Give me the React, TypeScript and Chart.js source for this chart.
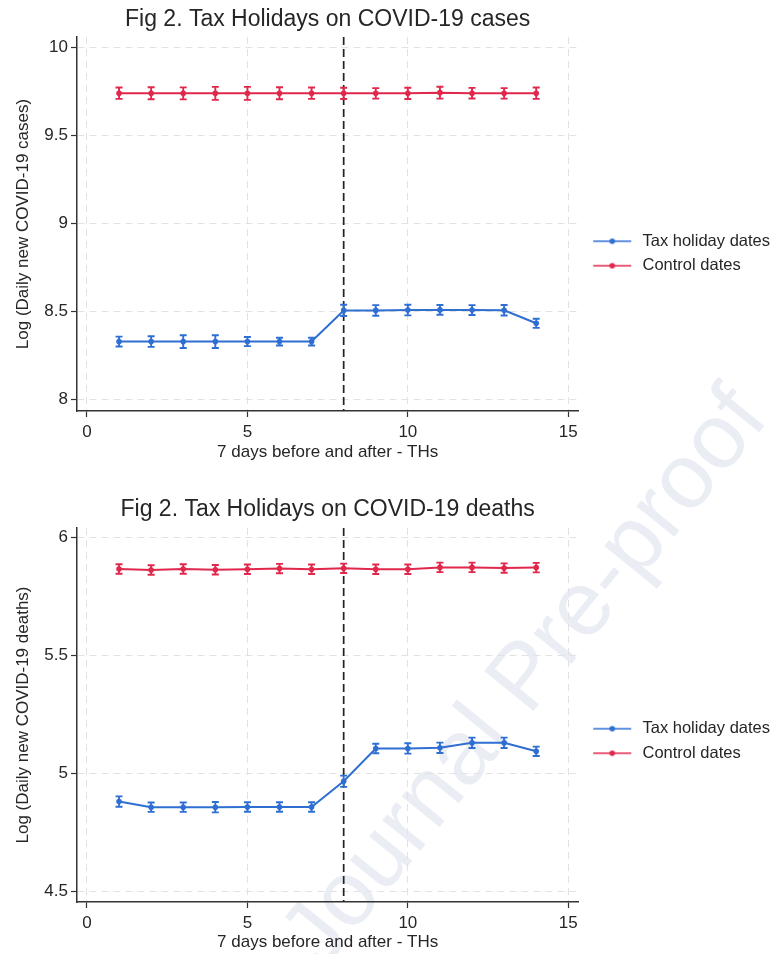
import React, { useEffect, useRef } from 'react';
import { Chart, registerables } from 'chart.js';

Chart.register(...registerables);

const FONT = "'Liberation Sans', Arial, Helvetica, sans-serif";
const TEXT = '#262626';
const AXIS = '#333333';
const GRID = '#e2e2e2';
const BLUE = '#2f6fd2';
const RED = '#e0284c';

// ---- shared data ----
const DAYS = [1, 2, 3, 4, 5, 6, 7, 8, 9, 10, 11, 12, 13, 14];
const X_TICKS = [0, 5, 10, 15];
const EVENT_DAY = 8;
const SERIES_NAMES = ['Tax holiday dates', 'Control dates'];
const X_TITLE = '7 days before and after - THs';
const WATERMARK = 'Journal Pre-proof';

// ---- panel 1: cases ----
const CASES_TITLE = 'Fig 2. Tax Holidays on COVID-19 cases';
const CASES_Y_TITLE = 'Log (Daily new COVID-19 cases)';
const CASES_Y_TICKS = [8, 8.5, 9, 9.5, 10];
const CASES_TAX = [8.328, 8.328, 8.328, 8.328, 8.328, 8.328, 8.328, 8.505, 8.505, 8.507, 8.508, 8.507, 8.506, 8.432];
const CASES_TAX_ERR = [0.028, 0.03, 0.036, 0.036, 0.026, 0.022, 0.022, 0.032, 0.03, 0.03, 0.028, 0.028, 0.03, 0.026];
const CASES_CONTROL = [9.738, 9.738, 9.737, 9.737, 9.737, 9.738, 9.738, 9.737, 9.737, 9.737, 9.741, 9.738, 9.737, 9.738];
const CASES_CONTROL_ERR = [0.032, 0.034, 0.034, 0.037, 0.037, 0.034, 0.032, 0.032, 0.03, 0.032, 0.034, 0.03, 0.03, 0.032];

// ---- panel 2: deaths ----
const DEATHS_TITLE = 'Fig 2. Tax Holidays on COVID-19 deaths';
const DEATHS_Y_TITLE = 'Log (Daily new COVID-19 deaths)';
const DEATHS_Y_TICKS = [4.5, 5, 5.5, 6];
const DEATHS_TAX = [4.881, 4.857, 4.857, 4.857, 4.858, 4.858, 4.858, 4.967, 5.106, 5.106, 5.109, 5.13, 5.13, 5.094];
const DEATHS_TAX_ERR = [0.022, 0.02, 0.02, 0.022, 0.02, 0.02, 0.02, 0.024, 0.02, 0.022, 0.022, 0.022, 0.022, 0.02];
const DEATHS_CONTROL = [5.867, 5.863, 5.867, 5.864, 5.866, 5.869, 5.866, 5.87, 5.866, 5.866, 5.874, 5.874, 5.871, 5.873];
const DEATHS_CONTROL_ERR = [0.02, 0.02, 0.02, 0.02, 0.02, 0.02, 0.02, 0.02, 0.02, 0.02, 0.02, 0.02, 0.02, 0.02];

function makeIcon(color: string): HTMLCanvasElement {
  const c = document.createElement('canvas');
  c.width = 48;
  c.height = 8;
  const g = c.getContext('2d')!;
  g.strokeStyle = color;
  g.lineWidth = 1.7;
  g.beginPath();
  g.moveTo(7, 4);
  g.lineTo(45, 4);
  g.stroke();
  g.fillStyle = color;
  g.beginPath();
  g.arc(26, 4, 2.8, 0, Math.PI * 2);
  g.fill();
  return c;
}

const errorBarPlugin = {
  id: 'errorBars',
  afterDatasetsDraw(chart: any) {
    const { ctx } = chart;
    const yScale = chart.scales.y;
    chart.data.datasets.forEach((ds: any, i: number) => {
      const errs: number[] = ds.errors;
      if (!errs) return;
      const meta = chart.getDatasetMeta(i);
      ctx.save();
      ctx.strokeStyle = ds.borderColor;
      ctx.lineWidth = 1.9;
      meta.data.forEach((pt: any, j: number) => {
        const v = ds.data[j].y;
        const top = yScale.getPixelForValue(v + errs[j]);
        const bot = yScale.getPixelForValue(v - errs[j]);
        ctx.beginPath();
        ctx.moveTo(pt.x, top);
        ctx.lineTo(pt.x, bot);
        ctx.moveTo(pt.x - 3.5, top);
        ctx.lineTo(pt.x + 3.5, top);
        ctx.moveTo(pt.x - 3.5, bot);
        ctx.lineTo(pt.x + 3.5, bot);
        ctx.stroke();
      });
      ctx.restore();
    });
  },
};

const eventLinePlugin = {
  id: 'eventLine',
  beforeDatasetsDraw(chart: any) {
    const { ctx, chartArea } = chart;
    const x = chart.scales.x.getPixelForValue(EVENT_DAY);
    ctx.save();
    ctx.strokeStyle = '#222222';
    ctx.lineWidth = 1.7;
    ctx.setLineDash([8, 4]);
    ctx.beginPath();
    ctx.moveTo(x, chartArea.top);
    ctx.lineTo(x, chartArea.bottom);
    ctx.stroke();
    ctx.restore();
  },
};

const centerTitlePlugin = {
  id: 'centerTitle',
  afterDraw(chart: any, _args: any, opts: any) {
    const { ctx, chartArea } = chart;
    ctx.save();
    ctx.font = `23px ${FONT}`;
    ctx.fillStyle = TEXT;
    ctx.textAlign = 'center';
    ctx.textBaseline = 'middle';
    ctx.fillText(opts.text, (chartArea.left + chartArea.right) / 2, opts.y);
    ctx.restore();
  },
};

type PanelProps = {
  title: string;
  yTitle: string;
  yTicks: number[];
  yMin: number;
  yMax: number;
  tax: number[];
  taxErr: number[];
  control: number[];
  controlErr: number[];
  top: number;
  height: number;
  padTop: number;
  xAxisHeight: number;
  xTitlePadBottom: number;
};

function Panel(p: PanelProps) {
  const ref = useRef<HTMLCanvasElement | null>(null);
  useEffect(() => {
    if (!ref.current) return;
    const icons = [makeIcon(BLUE), makeIcon(RED)];
    const chart = new Chart(ref.current, {
      type: 'line',
      data: {
        datasets: [
          {
            label: SERIES_NAMES[0],
            data: DAYS.map((d, i) => ({ x: d, y: p.tax[i] })),
            borderColor: BLUE,
            backgroundColor: BLUE,
            borderWidth: 2,
            pointRadius: 2.8,
            pointBorderWidth: 0,
            tension: 0,
            errors: p.taxErr,
          } as any,
          {
            label: SERIES_NAMES[1],
            data: DAYS.map((d, i) => ({ x: d, y: p.control[i] })),
            borderColor: RED,
            backgroundColor: RED,
            borderWidth: 2,
            pointRadius: 2.8,
            pointBorderWidth: 0,
            tension: 0,
            errors: p.controlErr,
          } as any,
        ],
      },
      options: {
        animation: false,
        responsive: true,
        maintainAspectRatio: false,
        events: [],
        layout: { padding: { top: p.padTop, left: 0, right: 4, bottom: 0 } },
        scales: {
          x: {
            type: 'linear',
            min: -0.31,
            max: 15.31,
            afterBuildTicks: (s: any) => {
              s.ticks = X_TICKS.map((v) => ({ value: v }));
            },
            afterFit: (s: any) => {
              s.height = p.xAxisHeight;
            },
            ticks: {
              color: TEXT,
              font: { family: FONT, size: 17 },
              padding: 5,
              maxRotation: 0,
              callback: (v: any) => String(v),
            },
            grid: {
              color: GRID,
              lineWidth: 1,
              tickColor: AXIS,
              tickLength: 6,
              tickWidth: 1.2,
            },
            border: { display: true, color: AXIS, width: 1.5, dash: [7, 5] },
            title: {
              display: true,
              text: X_TITLE,
              color: TEXT,
              font: { family: FONT, size: 17 },
              padding: { top: 0, bottom: p.xTitlePadBottom },
            },
          },
          y: {
            type: 'linear',
            min: p.yMin,
            max: p.yMax,
            afterBuildTicks: (s: any) => {
              s.ticks = p.yTicks.map((v) => ({ value: v }));
            },
            afterFit: (s: any) => {
              s.width = 77;
            },
            ticks: {
              color: TEXT,
              font: { family: FONT, size: 17 },
              padding: 3,
              callback: (v: any) => String(v),
            },
            grid: {
              color: GRID,
              lineWidth: 1,
              tickColor: AXIS,
              tickLength: 6,
              tickWidth: 1.2,
            },
            border: { display: true, color: AXIS, width: 1.5, dash: [7, 5] },
            title: {
              display: true,
              text: p.yTitle,
              color: TEXT,
              font: { family: FONT, size: 17 },
              padding: { top: 13, bottom: 0 },
            },
          },
        },
        plugins: {
          title: { display: false },
          tooltip: { enabled: false },
          legend: {
            display: true,
            position: 'right',
            align: 'center',
            labels: {
              usePointStyle: true,
              pointStyleWidth: 48,
              padding: 8,
              color: TEXT,
              font: { family: FONT, size: 16.5 },
              generateLabels: (c: any) => {
                const items = (Chart.defaults.plugins.legend.labels as any).generateLabels(c);
                return items.map((it: any, i: number) => ({ ...it, pointStyle: icons[i] }));
              },
            },
          },
          centerTitle: { text: p.title, y: 20 },
        } as any,
      },
      plugins: [errorBarPlugin, eventLinePlugin, centerTitlePlugin],
    });
    return () => chart.destroy();
  }, []);
  return (
    <div style={{ position: 'absolute', left: 0, top: p.top, width: 775, height: p.height }}>
      <canvas ref={ref} />
    </div>
  );
}

export default function App() {
  return (
    <div
      style={{
        position: 'absolute',
        left: 0,
        top: 0,
        width: 775,
        height: 954,
        overflow: 'hidden',
        background: '#ffffff',
      }}
    >
      <div
        style={{
          position: 'absolute',
          left: 522,
          top: 675,
          transform: 'translate(-50%, -50%) rotate(-51deg)',
          fontFamily: FONT,
          fontSize: 92,
          color: 'rgba(200, 208, 225, 0.38)',
          whiteSpace: 'nowrap',
          pointerEvents: 'none',
        }}
      >
        {WATERMARK}
      </div>
      <Panel
        title={CASES_TITLE}
        yTitle={CASES_Y_TITLE}
        yTicks={CASES_Y_TICKS}
        yMin={7.934}
        yMax={10.057}
        tax={CASES_TAX}
        taxErr={CASES_TAX_ERR}
        control={CASES_CONTROL}
        controlErr={CASES_CONTROL_ERR}
        top={0}
        height={470}
        padTop={37}
        xAxisHeight={59}
        xTitlePadBottom={7}
      />
      <Panel
        title={DEATHS_TITLE}
        yTitle={DEATHS_Y_TITLE}
        yTicks={DEATHS_Y_TICKS}
        yMin={4.455}
        yMax={6.041}
        tax={DEATHS_TAX}
        taxErr={DEATHS_TAX_ERR}
        control={DEATHS_CONTROL}
        controlErr={DEATHS_CONTROL_ERR}
        top={490}
        height={464}
        padTop={38}
        xAxisHeight={52}
        xTitlePadBottom={1}
      />
    </div>
  );
}
